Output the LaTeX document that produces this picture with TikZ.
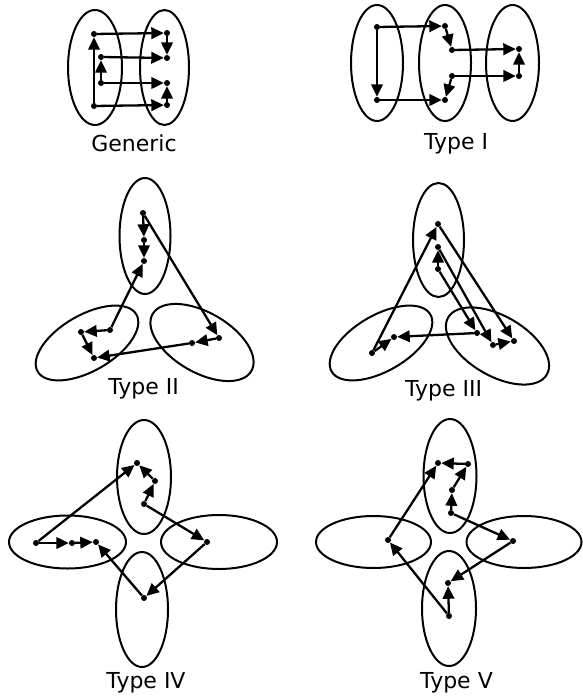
\documentclass[tikz,border=0pt]{standalone}
\usepackage{fontspec}
\setmainfont{DejaVu Sans}
\usetikzlibrary{arrows.meta}
\begin{document}
\begin{tikzpicture}[x=1pt,y=-1pt,
  ell/.style={line width=2pt},
  dot/.style={circle,fill,inner sep=0pt,minimum size=6pt},
  arr/.style={line width=2.3pt,-{Triangle[length=12.5pt,width=11.5pt]}},
  lbl/.style={anchor=base,font=\fontsize{22}{26}\selectfont}]
\useasboundingbox (0,0) rectangle (582,700);

% ---------------- Generic
\draw[ell] (95,67.5) ellipse [x radius=27pt,y radius=57.5pt];
\draw[ell] (164.5,67.5) ellipse [x radius=24.5pt,y radius=57.5pt];
\node[dot] (ga) at (94,106) {};
\node[dot] (gb) at (94,34) {};
\node[dot] (gc) at (167,33) {};
\node[dot] (gd) at (167,58) {};
\node[dot] (ge) at (101,57) {};
\node[dot] (gf) at (101,83) {};
\node[dot] (gg) at (167,83) {};
\node[dot] (gh) at (167,105) {};
\draw[arr] (ga) -- (gb);
\draw[arr] (gb) -- (gc);
\draw[arr] (gc) -- (gd);
\draw[arr] (ge) -- (gd);
\draw[arr] (gf) -- (ge);
\draw[arr] (gf) -- (gg);
\draw[arr] (gh) -- (gg);
\draw[arr] (ga) -- (gh);
\node[lbl] (lg) at (134,152) {Generic};

% ---------------- Type I
\draw[ell] (377,63) ellipse [x radius=26pt,y radius=58pt];
\draw[ell] (445,63) ellipse [x radius=26pt,y radius=58pt];
\draw[ell] (512.5,63) ellipse [x radius=26.5pt,y radius=58pt];
\node[dot] (ia) at (377,27) {};
\node[dot] (ib) at (377,100) {};
\node[dot] (ic) at (445,26) {};
\node[dot] (id) at (452,50) {};
\node[dot] (ie) at (519,49) {};
\node[dot] (if) at (519,76) {};
\node[dot] (ig) at (452,76) {};
\node[dot] (ih) at (445,100) {};
\draw[arr] (ia) -- (ic);
\draw[arr] (ia) -- (ib);
\draw[arr] (ic) -- (id);
\draw[arr] (id) -- (ie);
\draw[arr] (if) -- (ie);
\draw[arr] (ig) -- (if);
\draw[arr] (ig) -- (ih);
\draw[arr] (ib) -- (ih);
\node[lbl] (l1) at (456,150) {Type I};

% ---------------- Type II
\draw[ell] (145,236) ellipse [x radius=25.5pt,y radius=58pt];
\draw[ell,rotate around={30:(87,343)}] (87,343) ellipse [x radius=57pt,y radius=28pt];
\draw[ell,rotate around={-30:(202,342.5)}] (202,342.5) ellipse [x radius=57pt,y radius=30pt];
\node[dot] (qa) at (143,213) {};
\node[dot] (qb) at (144,240) {};
\node[dot] (qc) at (144,261) {};
\node[dot] (qd) at (110,330) {};
\node[dot] (qe) at (81,332) {};
\node[dot] (qf) at (94,358) {};
\node[dot] (qg) at (219,338) {};
\node[dot] (qh) at (192,343) {};
\draw[arr] (qa) -- (qb);
\draw[arr] (qb) -- (qc);
\draw[arr] (qd) -- (qc);
\draw[arr] (qd) -- (qe);
\draw[arr] (qe) -- (qf);
\draw[arr] (qa) -- (qg);
\draw[arr] (qg) -- (qh);
\draw[arr] (qh) -- (qf);
\node[lbl] (l2) at (143.5,394) {Type II};

% ---------------- Type III
\draw[ell] (438.5,240) ellipse [x radius=25.5pt,y radius=57pt];
\draw[ell,rotate around={30:(381,343)}] (381,343) ellipse [x radius=57pt,y radius=28pt];
\draw[ell,rotate around={-30:(497.5,346)}] (497.5,346) ellipse [x radius=57pt,y radius=30pt];
\node[dot] (ra) at (438,224) {};
\node[dot] (rb) at (438,247) {};
\node[dot] (rc) at (438,269) {};
\node[dot] (rd) at (372,353) {};
\node[dot] (re) at (394,337) {};
\node[dot] (rf) at (477,333) {};
\node[dot] (rg) at (493,345) {};
\node[dot] (rh) at (514,341) {};
\draw[arr] (rd) -- (ra);
\draw[arr] (ra) -- (rh);
\draw[arr] (rc) -- (rb);
\draw[arr] (rc) -- (rf);
\draw[arr] (rb) -- (rg);
\draw[arr] (rg) -- (rh);
\draw[arr] (rf) -- (re);
\draw[arr] (rd) -- (re);
\node[lbl] (l3) at (443.5,396) {Type III};

% ---------------- Type IV
\draw[ell] (144,477) ellipse [x radius=27pt,y radius=57pt];
\draw[ell] (67.5,542) ellipse [x radius=58.5pt,y radius=26.5pt];
\draw[ell] (219,542) ellipse [x radius=58pt,y radius=27pt];
\draw[ell] (142,609.5) ellipse [x radius=26pt,y radius=57.5pt];
\node[dot] (sa) at (36,543) {};
\node[dot] (sb) at (72,543) {};
\node[dot] (sc) at (96,542) {};
\node[dot] (sd) at (137,463) {};
\node[dot] (se) at (155,481) {};
\node[dot] (sf) at (144,504) {};
\node[dot] (sg) at (207,542) {};
\node[dot] (sh) at (144,598) {};
\draw[arr] (sa) -- (sb);
\draw[arr] (sb) -- (sc);
\draw[arr] (sa) -- (sd);
\draw[arr] (se) -- (sd);
\draw[arr] (sf) -- (se);
\draw[arr] (sf) -- (sg);
\draw[arr] (sg) -- (sh);
\draw[arr] (sh) -- (sc);
\node[lbl] (l4) at (146,688) {Type IV};

% ---------------- Type V
\draw[ell] (450,476) ellipse [x radius=26.5pt,y radius=57pt];
\draw[ell] (373.5,542) ellipse [x radius=57.5pt,y radius=26pt];
\draw[ell] (524,542) ellipse [x radius=57.5pt,y radius=26pt];
\draw[ell] (449,608.5) ellipse [x radius=27pt,y radius=57.5pt];
\node[dot] (ta) at (388,540) {};
\node[dot] (tb) at (438,463) {};
\node[dot] (tc) at (468,464) {};
\node[dot] (td) at (452,490) {};
\node[dot] (te) at (451,513) {};
\node[dot] (tf) at (513,541) {};
\node[dot] (tg) at (448,583) {};
\node[dot] (th) at (449,616) {};
\draw[arr] (ta) -- (tb);
\draw[arr] (tc) -- (tb);
\draw[arr] (td) -- (tc);
\draw[arr] (te) -- (td);
\draw[arr] (te) -- (tf);
\draw[arr] (tf) -- (tg);
\draw[arr] (th) -- (tg);
\draw[arr] (th) -- (ta);
\node[lbl] (l5) at (456.5,688) {Type V};
\end{tikzpicture}
\end{document}
